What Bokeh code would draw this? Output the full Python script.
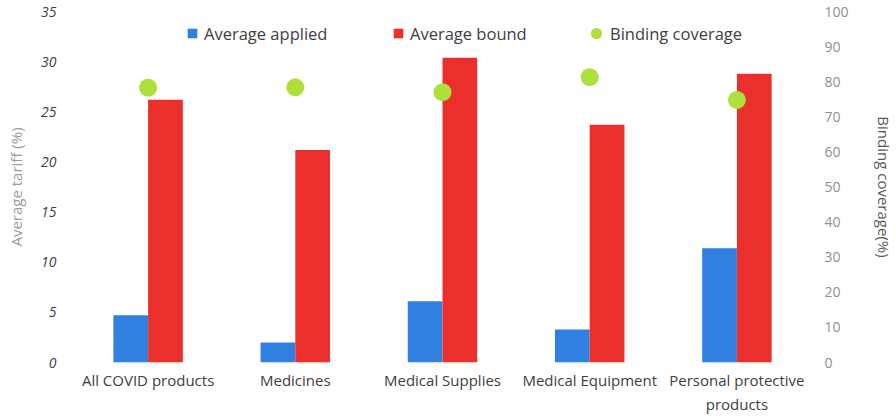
from bokeh.plotting import figure
from bokeh.models import (ColumnDataSource, FactorRange, Range1d, LinearAxis,
                          SingleIntervalTicker, FixedTicker, Legend, LegendItem)
from bokeh.transform import dodge
from bokeh.embed import file_html
from bokeh.resources import INLINE

# Tariff data per product group
categories = ["All COVID products", "Medicines", "Medical Supplies",
              "Medical Equipment", "Personal protective\nproducts"]
avg_applied = [4.7, 2.0, 6.1, 3.3, 11.4]
avg_bound = [26.2, 21.2, 30.4, 23.7, 28.8]
binding_coverage = [78.3, 78.4, 77.0, 81.3, 74.8]

BLUE = "#2F80E1"
RED = "#EA2F2C"
GREEN = "#AEE03B"
FONT = "Open Sans"

src = ColumnDataSource(dict(cat=categories, applied=avg_applied,
                            bound=avg_bound, cov=binding_coverage))

p = figure(width=896, height=417, x_range=FactorRange(*categories, range_padding=0),
           y_range=Range1d(0, 35), output_backend="svg", toolbar_location=None,
           min_border_left=74, min_border_right=82, min_border_top=11,
           min_border_bottom=55)
p.extra_y_ranges = {"cov": Range1d(0, 100)}

bw = 0.236
r_applied = p.vbar(x=dodge("cat", -bw / 2, range=p.x_range), top="applied", width=bw,
                   source=src, fill_color=BLUE, line_color=None)
r_bound = p.vbar(x=dodge("cat", bw / 2, range=p.x_range), top="bound", width=bw,
                 source=src, fill_color=RED, line_color=None)
r_cov = p.scatter(x="cat", y="cov", y_range_name="cov", source=src, size=18,
                  fill_color=GREEN, line_color=None)

# Zero-size square markers: they only supply the square legend keys of the bars
key_applied = p.scatter(x="cat", y="applied", source=src, size=0, marker="square",
                        fill_color=BLUE, line_color=None)
key_bound = p.scatter(x="cat", y="bound", source=src, size=0, marker="square",
                      fill_color=RED, line_color=None)

# Styling
p.outline_line_color = None
p.xgrid.grid_line_color = None
p.ygrid.grid_line_color = None

xa = p.xaxis[0]
xa.axis_line_color = None
xa.major_tick_line_color = None
xa.minor_tick_line_color = None
xa.major_tick_out = 0
xa.major_label_standoff = 7
xa.major_label_text_font = FONT
xa.major_label_text_font_size = "15px"
xa.major_label_text_color = "#404040"

ya = p.yaxis[0]
ya.ticker = SingleIntervalTicker(interval=5)
ya.axis_line_color = None
ya.major_tick_line_color = None
ya.minor_tick_line_color = None
ya.major_tick_out = 0
ya.major_label_standoff = 14
ya.major_label_text_font = FONT
ya.major_label_text_font_style = "italic"
ya.major_label_text_font_size = "14px"
ya.major_label_text_color = "#404040"
ya.axis_label = "Average tariff (%)"
ya.axis_label_text_font = FONT
ya.axis_label_text_font_style = "normal"
ya.axis_label_text_font_size = "15px"
ya.axis_label_text_color = "#9a9a9a"
ya.axis_label_standoff = 12

ra = LinearAxis(y_range_name="cov", ticker=FixedTicker(ticks=list(range(0, 101, 10))))
ra.axis_line_color = None
ra.major_tick_line_color = None
ra.minor_tick_line_color = None
ra.major_tick_out = 0
ra.major_label_standoff = 14
ra.major_label_text_font = FONT
ra.major_label_text_font_size = "14px"
ra.major_label_text_color = "#8f8f8f"
ra.axis_label = "Binding coverage(%)"
ra.axis_label_text_font = FONT
ra.axis_label_text_font_style = "normal"
ra.axis_label_text_font_size = "15px"
ra.axis_label_text_color = "#595959"
ra.axis_label_standoff = 22
p.add_layout(ra, "right")

# Legend entries, each placed along the top of the plot area
for label, rend, x, y, g in [("Average applied", key_applied, 106, 317, 24),
                             ("Average bound", key_bound, 312, 317, 24),
                             ("Binding coverage", r_cov, 508, 315, 28)]:
    lg = Legend(items=[LegendItem(label=label, renderers=[rend])], location=(x, y),
                orientation="horizontal", padding=0, margin=0, spacing=0,
                glyph_width=g, glyph_height=g, label_standoff=0,
                border_line_color=None, background_fill_alpha=0,
                label_text_font=FONT, label_text_font_size="16.5px",
                label_text_color="#404040")
    p.add_layout(lg, "center")

open("out.html", "w").write(file_html(p, INLINE))
